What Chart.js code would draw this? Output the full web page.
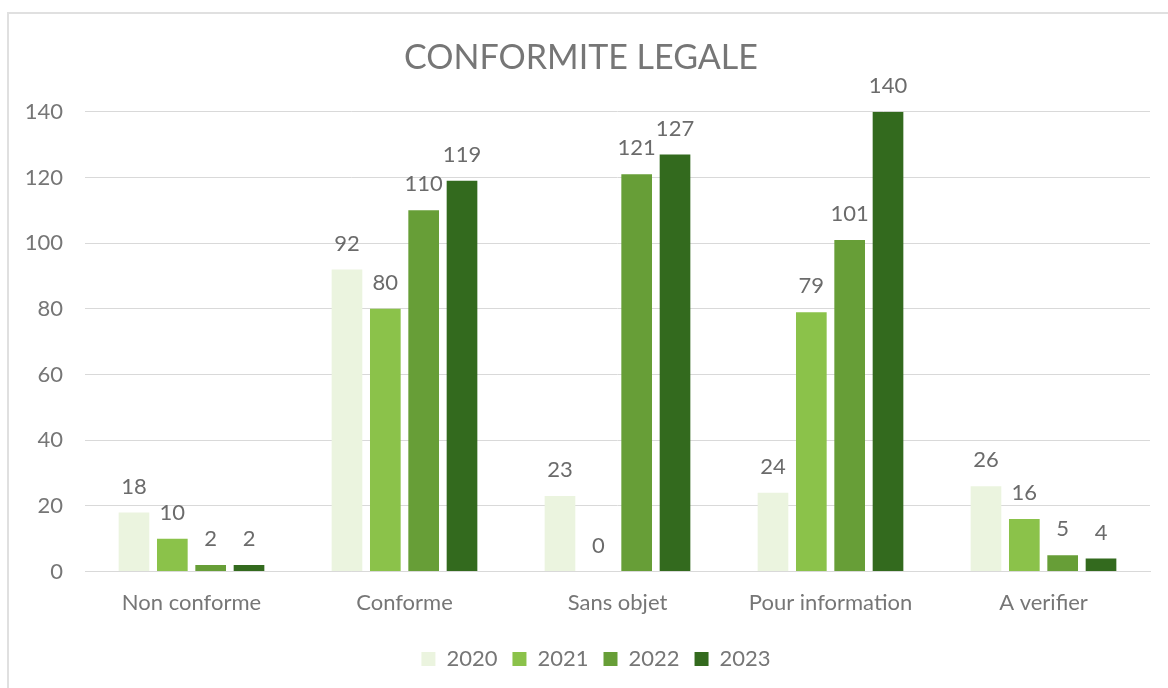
<!DOCTYPE html>
<html>
<head>
<meta charset="utf-8">
<script src="https://cdn.jsdelivr.net/npm/chart.js@4/dist/chart.umd.min.js"></script>
<style>
  html, body { margin: 0; padding: 0; background: #fff; overflow: hidden; }
  #cadre { position: absolute; left: 7px; top: 12px; width: 1180px; height: 700px; border: 2px solid #e0e0e0; }
  #zone { position: absolute; left: 0; top: 0; width: 1168px; height: 688px; }
</style>
</head>
<body>
<div id="cadre"></div>
<div id="zone"><canvas id="graphique"></canvas></div>
<script>
const categories = ["Non conforme", "Conforme", "Sans objet", "Pour information", "A verifier"];
const annees = ["2020", "2021", "2022", "2023"];
const valeurs2020 = [18, 92, 23, 24, 26];
const valeurs2021 = [10, 80, 0, 79, 16];
const valeurs2022 = [2, 110, 121, 101, 5];
const valeurs2023 = [2, 119, 127, 140, 4];
const ticksY = [0, 20, 40, 60, 80, 100, 120, 140];

const couleurs = ["#ebf4df", "#8bc24a", "#679e37", "#336a1e"];
const gris = "#767676";
const police = "Lato, 'Open Sans', sans-serif";

// Étiquettes de valeurs au-dessus des barres
const etiquettes = {
    id: "etiquettes",
    afterLayout(chart) {
        // légende un peu décalée vers la droite, comme dans l'original
        chart.legend.left += 15;
        chart.legend.right += 15;
    },
    afterDatasetsDraw(chart) {
        const ctx = chart.ctx;
        ctx.save();
        ctx.font = "22px " + police;
        ctx.fillStyle = "#6b6b6b";
        ctx.textAlign = "center";
        ctx.textBaseline = "bottom";
        chart.data.datasets.forEach((ds, i) => {
            chart.getDatasetMeta(i).data.forEach((bar, j) => {
                ctx.fillText(ds.data[j], bar.x, bar.y - 15);
            });
        });
        ctx.restore();
    }
};

const series = [valeurs2020, valeurs2021, valeurs2022, valeurs2023];

new Chart(document.getElementById("graphique").getContext("2d"), {
    type: "bar",
    data: {
        labels: categories,
        datasets: series.map((valeurs, i) => ({
            label: annees[i],
            data: valeurs,
            backgroundColor: couleurs[i],
            borderWidth: 0,
            categoryPercentage: 0.72,
            barPercentage: 0.8
        }))
    },
    options: {
        responsive: true,
        maintainAspectRatio: false,
        animation: false,
        layout: { padding: { left: 12, right: 18, top: 20, bottom: 8 } },
        plugins: {
            title: {
                display: true,
                text: "CONFORMITE LEGALE",
                color: gris,
                font: { family: police, size: 34, weight: "normal" },
                padding: { top: 18, bottom: 33 }
            },
            legend: {
                position: "bottom",
                labels: {
                    color: gris,
                    font: { family: police, size: 22 },
                    boxWidth: 14,
                    boxHeight: 14,
                    padding: 15
                }
            },
            tooltip: { enabled: false }
        },
        scales: {
            x: {
                grid: { display: false },
                border: { color: "#d9d9d9", width: 1 },
                afterFit: (scale) => { scale.height += 7; },
                ticks: { color: gris, font: { family: police, size: 22 }, padding: 10 }
            },
            y: {
                min: 0,
                max: 140,
                afterBuildTicks: (scale) => { scale.ticks = ticksY.map(v => ({ value: v })); },
                afterFit: (scale) => { scale.width = 73; },
                grid: { color: "#d9d9d9", drawTicks: false },
                border: { display: false },
                ticks: { color: gris, font: { family: police, size: 22 }, padding: 22 }
            }
        }
    },
    plugins: [etiquettes]
});
</script>
</body>
</html>
